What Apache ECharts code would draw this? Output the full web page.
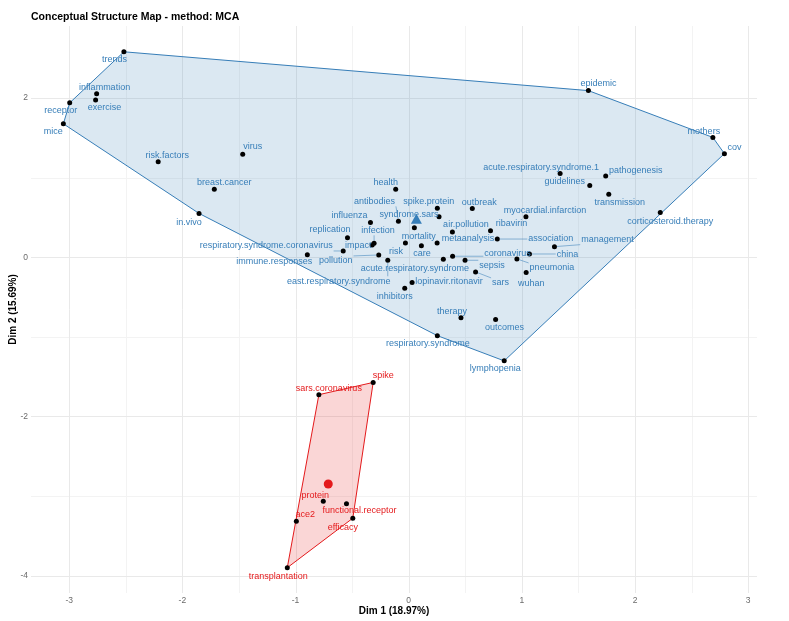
<!DOCTYPE html>
<html><head><meta charset="utf-8">
<script src="https://cdn.jsdelivr.net/npm/echarts@6/dist/echarts.min.js"></script>
<style>html,body{margin:0;padding:0;background:#fff}#c{width:789px;height:621px}</style>
</head><body><div id="c"></div>
<script>
// ---------------- DATA ----------------
const blueWords = ['trends','inflammation','exercise','receptor','mice','risk.factors','virus','breast.cancer','in.vivo',
  'epidemic','mothers','cov','acute.respiratory.syndrome.1','pathogenesis','guidelines','transmission','corticosteroid.therapy',
  'outbreak','myocardial.infarction','health','spike.protein','syndrome.sars','antibodies','influenza','mortality','replication',
  'infection','impact','risk','care','metaanalysis','air.pollution','ribavirin','association','management','china','pneumonia',
  'wuhan','coronavirus','acute.respiratory.syndrome','sepsis','sars','respiratory.syndrome.coronavirus','immune.responses',
  'pollution','east.respiratory.syndrome','lopinavir.ritonavir','inhibitors','therapy','outcomes','respiratory.syndrome','lymphopenia'];
const blueDim1 = [-2.517,-2.758,-2.767,-2.996,-3.052,-2.214,-1.467,-1.718,-1.853,
  1.588,2.688,2.790,1.338,1.741,1.600,1.768,2.223,
  0.562,1.036,-0.115,0.253,0.268,-0.091,-0.338,0.050,-0.541,
  -0.306,-0.323,-0.029,0.112,0.251,0.386,0.723,0.783,1.288,1.067,0.956,
  1.038,0.388,0.306,0.498,0.591,-0.579,-0.896,
  -0.265,-0.185,0.030,-0.035,0.462,0.768,0.253,0.844];
const blueDim2 = [2.582,2.056,1.977,1.940,1.677,1.201,1.293,0.855,0.551,
  2.094,1.506,1.302,1.051,1.021,0.901,0.792,0.563,
  0.613,0.508,0.855,0.617,0.508,0.451,0.438,0.370,0.245,
  0.175,0.154,0.179,0.145,0.179,0.317,0.333,0.229,0.133,0.041,-0.021,
  -0.193,0.013,-0.025,-0.038,-0.184,0.079,0.033,
  0.029,-0.038,-0.318,-0.388,-0.760,-0.781,-0.985,-1.302];
const redWords = ['spike','sars.coronavirus','protein','functional.receptor','efficacy','ace2','transplantation'];
const redDim1 = [-0.314,-0.794,-0.755,-0.550,-0.494,-0.993,-1.073];
const redDim2 = [-1.573,-1.727,-3.066,-3.096,-3.279,-3.317,-3.901];
const blueCentroid = [0.068, 0.483];
const redCentroid = [-0.711, -2.850];
const xTicks = [-3,-2,-1,0,1,2,3];
const yTicks = [-4,-2,0,2];
const xMinorTicks = [-2.5,-1.5,-0.5,0.5,1.5,2.5];
const yMinorTicks = [-3,-1,1];
const titleText = 'Conceptual Structure Map - method: MCA';
const xTitle = 'Dim 1 (18.97%)';
const yTitle = 'Dim 2 (15.69%)';

// ---------------- LAYOUT / STYLE ----------------
const XMIN = -3.338, XMAX = 3.078, YMIN = -4.219, YMAX = 2.906;
const BLUE = '#377EB8', RED = '#E41A1C';
const LABEL_FONT = '9px "Liberation Sans", Arial, sans-serif';
// label nudges in pixels [dx, dy, drawSegment]
const nudge = {
  'trends':[-9.5,8],'inflammation':[8,-6],'exercise':[9,8],'receptor':[-9,8],'mice':[-10,8],'risk.factors':[9,-6],
  'virus':[10,-8],'breast.cancer':[10,-7],'in.vivo':[-10,9],'epidemic':[10,-7],'mothers':[-9,-6],'cov':[10,-6],
  'acute.respiratory.syndrome.1':[-19,-6],'pathogenesis':[30,-5],'guidelines':[-25,-4],'transmission':[11,8],
  'corticosteroid.therapy':[10,9],'outbreak':[7,-6],'myocardial.infarction':[19,-6],'health':[-10,-7],
  'spike.protein':[-8.5,-7],'syndrome.sars':[-30,-2],'antibodies':[-24,-20,1],'influenza':[-21,-7],'mortality':[4.5,9],
  'replication':[-17.5,-8],'infection':[4,-13,1],'impact':[-14,1],'risk':[-9.5,9],'care':[0.5,8],'metaanalysis':[31,-4],
  'air.pollution':[13.5,-8],'ribavirin':[21,-7],'association':[53.5,-1,1],'management':[53,-7,1],'china':[38,1,1],
  'pneumonia':[35,9,1],'wuhan':[5,11],'coronavirus':[55,-3,1],'acute.respiratory.syndrome':[-28.5,9],'sepsis':[27,5,1],
  'sars':[25,11,1],'respiratory.syndrome.coronavirus':[-77,-5,1],'immune.responses':[-33,7],'pollution':[-43,6,1],
  'east.respiratory.syndrome':[-49,21,1],'lopinavir.ritonavir':[37,-1],'inhibitors':[-10,8],'therapy':[-9,-6],
  'outcomes':[9,8],'respiratory.syndrome':[-9.5,8],'lymphopenia':[-9,8],
  'spike':[10,-7],'sars.coronavirus':[10,-6],'protein':[-8,-6],'functional.receptor':[13,7],'ace2':[9,-7],
  'efficacy':[-10,9],'transplantation':[-9,9]
};

const measureCtx = document.createElement('canvas').getContext('2d');
measureCtx.font = LABEL_FONT;

function zip(w, a, b) { return w.map((n, i) => [a[i], b[i], n]); }
const blueData = zip(blueWords, blueDim1, blueDim2);
const redData = zip(redWords, redDim1, redDim2);

function hull(pts) {
  const p = pts.slice().sort((a, b) => a[0] - b[0] || a[1] - b[1]);
  const cross = (o, a, b) => (a[0]-o[0])*(b[1]-o[1]) - (a[1]-o[1])*(b[0]-o[0]);
  const lower = [], upper = [];
  for (const q of p) { while (lower.length >= 2 && cross(lower[lower.length-2], lower[lower.length-1], q) <= 0) lower.pop(); lower.push(q); }
  for (let i = p.length - 1; i >= 0; i--) { const q = p[i]; while (upper.length >= 2 && cross(upper[upper.length-2], upper[upper.length-1], q) <= 0) upper.pop(); upper.push(q); }
  upper.pop(); lower.pop();
  return lower.concat(upper);
}

function hullSeries(data, color) {
  return {
    type: 'custom', silent: true, z: 2, data: [[0, 0]],
    renderItem: function (params, api) {
      const px = data.map(d => api.coord([d[0], d[1]]));
      return { type: 'polygon', shape: { points: hull(px) },
        style: { fill: echarts.color.modifyAlpha(color, 0.18), stroke: color, lineWidth: 1 } };
    }
  };
}

function labelSeries(data, color) {
  return {
    type: 'custom', silent: true, z: 5, data: data.map((d, i) => [d[0], d[1], i]),
    renderItem: function (params, api) {
      const d = data[api.value(2)];
      const c = api.coord([d[0], d[1]]);
      const n = nudge[d[2]] || [0, -8];
      const tx = c[0] + n[0], ty = c[1] + n[1];
      const children = [];
      if (n[2]) {
        const w = measureCtx.measureText(d[2]).width;
        const l = tx - w / 2 - 1, r = tx + w / 2 + 1, t = ty - 5, b = ty + 5;
        const ex = Math.min(Math.max(c[0], l), r), ey = Math.min(Math.max(c[1], t), b);
        const len = Math.hypot(ex - c[0], ey - c[1]);
        if (len > 4) {
          const sx = c[0] + (ex - c[0]) * 2.5 / len, sy = c[1] + (ey - c[1]) * 2.5 / len;
          children.push({ type: 'line', shape: { x1: sx, y1: sy, x2: ex, y2: ey }, style: { stroke: color, lineWidth: 0.6, opacity: 0.9 } });
        }
      }
      children.push({ type: 'text', x: tx, y: ty, style: { text: d[2], fill: color, font: LABEL_FONT, align: 'center', verticalAlign: 'middle' } });
      return { type: 'group', children: children };
    }
  };
}

const gridSeries = {
  type: 'custom', silent: true, z: 1, data: [[0, 0]],
  renderItem: function (params, api) {
    const ch = [];
    const vline = (v, stroke, w) => { const a = api.coord([v, YMIN]), b = api.coord([v, YMAX]);
      const x = Math.round(a[0]) + 0.5; ch.push({ type: 'line', shape: { x1: x, y1: a[1], x2: x, y2: b[1] }, style: { stroke: stroke, lineWidth: w } }); };
    const hline = (v, stroke, w) => { const a = api.coord([XMIN, v]), b = api.coord([XMAX, v]);
      const y = Math.round(a[1]) + 0.5; ch.push({ type: 'line', shape: { x1: a[0], y1: y, x2: b[0], y2: y }, style: { stroke: stroke, lineWidth: w } }); };
    xMinorTicks.forEach(v => vline(v, '#f3f3f3', 1));
    yMinorTicks.forEach(v => hline(v, '#f3f3f3', 1));
    xTicks.forEach(v => vline(v, '#e9e9e9', 1));
    yTicks.forEach(v => hline(v, '#e9e9e9', 1));
    xTicks.forEach(v => { const a = api.coord([v, YMIN]);
      ch.push({ type: 'text', x: a[0], y: a[1] + 8, style: { text: String(v), fill: '#6b6b6b', font: '8.5px "Liberation Sans", Arial, sans-serif', align: 'center', verticalAlign: 'middle' } }); });
    yTicks.forEach(v => { const a = api.coord([XMIN, v]);
      ch.push({ type: 'text', x: a[0] - 3, y: a[1], style: { text: String(v), fill: '#6b6b6b', font: '8.5px "Liberation Sans", Arial, sans-serif', align: 'right', verticalAlign: 'middle' } }); });
    return { type: 'group', children: ch };
  }
};

const chart = echarts.init(document.getElementById('c'), null, { renderer: 'canvas' });
chart.setOption({
  animation: false,
  backgroundColor: '#ffffff',
  title: { text: titleText, left: 26, top: 7, textStyle: { fontFamily: '"Liberation Sans", Arial, sans-serif', fontWeight: 'bold', fontSize: 10.5, color: '#000' } },
  grid: { left: 30, right: 32, top: 26, bottom: 26, containLabel: false },
  xAxis: { type: 'value', min: XMIN, max: XMAX, axisLine: { show: false }, axisTick: { show: false }, axisLabel: { show: false }, splitLine: { show: false },
    name: xTitle, nameLocation: 'middle', nameGap: 13, nameTextStyle: { fontFamily: '"Liberation Sans", Arial, sans-serif', fontWeight: 'bold', fontSize: 10, color: '#000' } },
  yAxis: { type: 'value', min: YMIN, max: YMAX, axisLine: { show: false }, axisTick: { show: false }, axisLabel: { show: false }, splitLine: { show: false },
    name: yTitle, nameLocation: 'middle', nameGap: 13, nameTextStyle: { fontFamily: '"Liberation Sans", Arial, sans-serif', fontWeight: 'bold', fontSize: 10, color: '#000' } },
  series: [
    gridSeries,
    hullSeries(blueData, BLUE),
    hullSeries(redData, RED),
    labelSeries(blueData, BLUE),
    labelSeries(redData, RED),
    { type: 'scatter', silent: true, z: 4, symbolSize: 5, itemStyle: { color: '#000', opacity: 1 }, data: blueData.map(d => [d[0], d[1]]) },
    { type: 'scatter', silent: true, z: 4, symbolSize: 5, itemStyle: { color: '#000', opacity: 1 }, data: redData.map(d => [d[0], d[1]]) },
    { type: 'scatter', silent: true, z: 6, symbol: 'triangle', symbolSize: [11, 10], itemStyle: { color: BLUE, opacity: 1 }, data: [blueCentroid] },
    { type: 'scatter', silent: true, z: 6, symbol: 'circle', symbolSize: 9, itemStyle: { color: RED, opacity: 1 }, data: [redCentroid] }
  ]
});
</script></body></html>
